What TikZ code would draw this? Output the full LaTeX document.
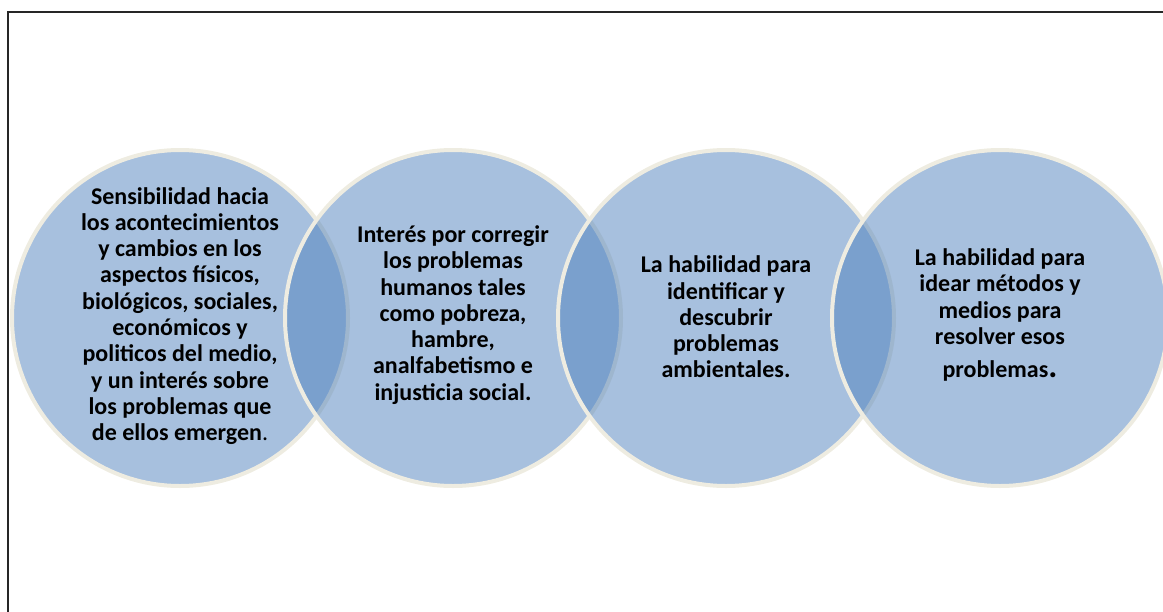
\documentclass[tikz,border=0pt]{standalone}
\usepackage{fontspec}
\setmainfont{Carlito}
\definecolor{vennblue}{RGB}{79,129,189}
\definecolor{venncream}{RGB}{238,236,225}
\tikzset{
  venn/.style={circle, minimum size=336pt, inner sep=0pt, fill=vennblue, fill opacity=0.5, draw=venncream, draw opacity=1, line width=4pt},
  venntext/.style={align=center, text=black, font=\fontsize{24}{26.3}\selectfont\bfseries, inner sep=0pt}
}
\begin{document}
\begin{tikzpicture}[x=1pt,y=-1pt]
\useasboundingbox (0,0) rectangle (1163,611);
\begin{scope}
\clip (0,0) rectangle (1163,611);
\draw[line width=2pt, black!85] (8,12) rectangle (1180,630);
\node[venn] (c1) at (180,318) {};
\node[venn] (c2) at (453,318) {};
\node[venn] (c3) at (726,318) {};
\node[venn] (c4) at (1000,318) {};
\end{scope}
\node[venntext] (t1) at ([yshift=2pt]c1.center) {Sensibilidad hacia\\los acontecimientos\\y cambios en los\\aspectos físicos,\\biológicos, sociales,\\económicos y\\politicos del medio,\\y un interés sobre\\los problemas que\\de ellos emergen{\mdseries .}};
\node[venntext] (t2) at ([yshift=3pt]c2.center) {Interés por corregir\\los problemas\\humanos tales\\como pobreza,\\hambre,\\analfabetismo e\\injusticia social.};
\node[venntext] (t3) at ([yshift=1pt]c3.center) {La habilidad para\\identificar y\\descubrir\\problemas\\ambientales.};
\node[venntext] (t4) at ([yshift=3pt]c4.center) {La habilidad para\\idear métodos y\\medios para\\resolver esos\\[7pt]problemas{\fontsize{34}{34}\selectfont .}};
\end{tikzpicture}
\end{document}
